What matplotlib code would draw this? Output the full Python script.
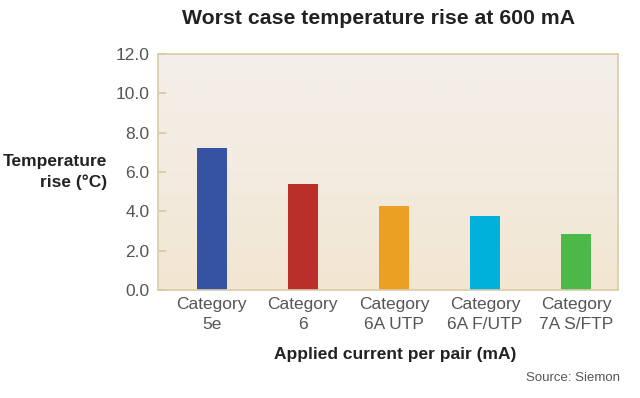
import numpy as np
import matplotlib
matplotlib.use('Agg')
import matplotlib.pyplot as plt
from matplotlib.colors import LinearSegmentedColormap

# Datos
categorias = ['Category\n5e', 'Category\n6', 'Category\n6A UTP', 'Category\n6A F/UTP', 'Category\n7A S/FTP']
subida_temp = [7.2, 5.4, 4.25, 3.75, 2.85]
colores = ['#3652a3', '#bb2f2a', '#eba024', '#00b1dc', '#4cb848']
ticks_y = [0.0, 2.0, 4.0, 6.0, 8.0, 10.0, 12.0]

plt.rcParams['font.family'] = ['Liberation Sans', 'DejaVu Sans']

fig = plt.figure(figsize=(6.4, 3.98), dpi=100)
ax = fig.add_axes([158 / 640, 1 - 290 / 398, 460 / 640, 236 / 398])

x = np.arange(len(categorias))
ax.set_xlim(-0.59, 4.46)
ax.set_ylim(0, 12)

# fondo degradado
cmap = LinearSegmentedColormap.from_list('fondo', ['#f2e6d1', '#f3ebdf', '#f3efea'])
grad = np.linspace(0, 1, 256).reshape(-1, 1)
ax.imshow(grad, aspect='auto', cmap=cmap, origin='lower',
          extent=[-0.59, 4.46, 0, 12], zorder=0)

ax.bar(x, subida_temp, width=0.33, color=colores, zorder=2)

for s in ax.spines.values():
    s.set_color('#dccbaa')
    s.set_linewidth(1.2)

ax.set_yticks(ticks_y)
ax.set_yticklabels([f'{t:.1f}' for t in ticks_y], fontsize=12.5, color='#555555')
ax.tick_params(axis='y', direction='in', length=6, color='#d8c6a2', width=1.2, pad=6)
ax.set_xticks(x)
ax.set_xticklabels(categorias, fontsize=12.5, color='#555555', linespacing=1.45)
ax.tick_params(axis='x', length=0, pad=5)

fig.text(379 / 640, 1 - 18 / 398, 'Worst case temperature rise at 600 mA',
         ha='center', va='center', fontsize=15.3, fontweight='bold', color='#222222')
fig.text(107 / 640, 1 - 172 / 398, 'Temperature\nrise (°C)', ha='right', va='center',
         fontsize=12.5, fontweight='bold', color='#222222', multialignment='right',
         linespacing=1.5)
fig.text(395 / 640, 1 - 355 / 398, 'Applied current per pair (mA)', ha='center', va='center',
         fontsize=12.5, fontweight='bold', color='#222222')
fig.text(620 / 640, 1 - 378 / 398, 'Source: Siemon', ha='right', va='center',
         fontsize=9.5, color='#555555')

fig.savefig('out.png', dpi=100)
